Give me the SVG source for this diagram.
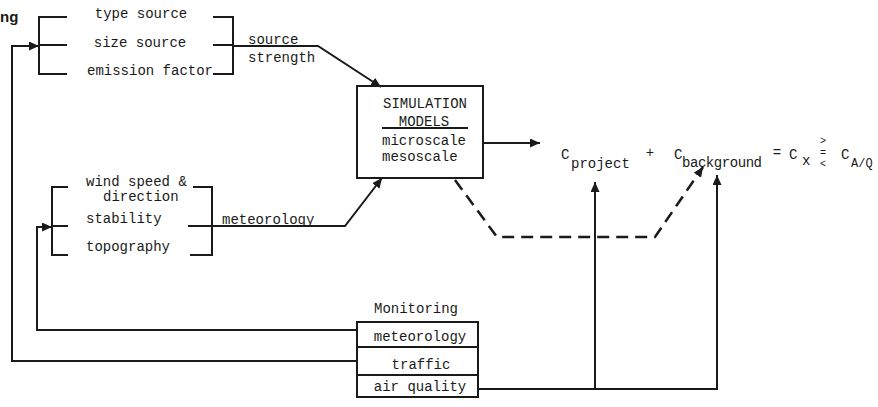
<svg xmlns="http://www.w3.org/2000/svg" width="878" height="407" viewBox="0 0 878 407">
  <style>
    .t { font-family: "Liberation Mono", "DejaVu Sans Mono", monospace; font-size: 14px; fill: #1a1a1a; }
    .m { text-anchor: middle; }
    .ln { fill: none; stroke: #1a1a1a; stroke-width: 2; }
    .dash { fill: none; stroke: #1a1a1a; stroke-width: 2.5; stroke-dasharray: 12 7; }
    .box { fill: #fff; stroke: #1a1a1a; stroke-width: 2; }
  </style>
  <defs>
    <marker id="arrow" markerUnits="userSpaceOnUse" markerWidth="11" markerHeight="9" refX="10" refY="4.5" orient="auto">
      <path d="M0,0 L10,4.5 L0,9 z" fill="#1a1a1a"/>
    </marker>
  </defs>
  <rect width="878" height="407" fill="#fff"/>

  <text x="0" y="22" style="font-family: 'Liberation Sans', Arial, sans-serif; font-size: 15px; font-weight: bold; fill: #1a1a1a;">ng</text>

  <!-- emission source inputs -->
  <g id="source-inputs">
    <path class="ln" d="M67,17 H39 V74 H67 M39,45 H67"/>
    <path class="ln" d="M213,17 H233 V74 H213 M213,45 H233"/>
    <text class="t m" x="141" y="18">type source</text>
    <text class="t m" x="140" y="47">size source</text>
    <text class="t m" x="150" y="75">emission factor</text>
  </g>

  <!-- meteorological inputs -->
  <g id="meteo-inputs">
    <path class="ln" d="M68,187 H52 V255 H68 M52,226 H68"/>
    <path class="ln" d="M193,187 H212 V255 H190 M188,226 H212"/>
    <text class="t" x="86" y="186">wind speed &amp;</text>
    <text class="t" x="103" y="201">direction</text>
    <text class="t" x="86" y="223">stability</text>
    <text class="t" x="86" y="251">topography</text>
  </g>

  <!-- simulation models -->
  <g id="simulation">
    <rect class="box" x="357" y="86" width="126" height="92"/>
    <text class="t m" x="425" y="108">SIMULATION</text>
    <text class="t m" x="424" y="126">MODELS</text>
    <line class="ln" x1="382" y1="128" x2="468" y2="128"/>
    <text class="t" x="382" y="145">microscale</text>
    <text class="t" x="382" y="161">mesoscale</text>
  </g>

  <!-- monitoring -->
  <g id="monitoring">
    <text class="t m" x="416" y="313">Monitoring</text>
    <rect class="box" x="357" y="322" width="121" height="75"/>
    <line class="ln" x1="357" y1="347" x2="478" y2="347"/>
    <line class="ln" x1="357" y1="375" x2="478" y2="375"/>
    <text class="t m" x="420" y="341">meteorology</text>
    <text class="t m" x="421" y="369">traffic</text>
    <text class="t m" x="420" y="391">air quality</text>
  </g>

  <!-- concentration equation -->
  <g id="equation">
    <text class="t" x="561" y="159">C</text>
    <text class="t" x="571" y="168">project</text>
    <text class="t m" x="650" y="157">+</text>
    <text class="t" x="674" y="159">C</text>
    <text class="t" x="682" y="167" textLength="80">background</text>
    <text class="t m" x="777" y="157">=</text>
    <text class="t" x="789" y="159">C</text>
    <text class="t" x="802" y="165">x</text>
    <text class="t m" x="823" y="144" style="font-size:10px">&gt;</text>
    <text class="t m" x="823" y="156" style="font-size:10px">=</text>
    <text class="t m" x="823" y="167" style="font-size:10px">&lt;</text>
    <text class="t" x="841" y="159">C</text>
    <text class="t" x="851" y="167" style="font-size:12px">A/Q</text>
  </g>

  <!-- connectors -->
  <g id="connectors">
    <path class="ln" d="M233,46 H318 L381,87" marker-end="url(#arrow)"/>
    <text class="t" x="248" y="44">source</text>
    <text class="t" x="248" y="62">strength</text>
    <path class="ln" d="M212,226 H345 L382,178" marker-end="url(#arrow)"/>
    <text class="t" x="222" y="224">meteorology</text>
    <path class="ln" d="M483,143 H540" marker-end="url(#arrow)"/>
    <path class="dash" d="M455,180 L497,237 H655 L703,167" marker-end="url(#arrow)"/>
    <path class="ln" d="M357,330 H37 V227 H52" marker-end="url(#arrow)"/>
    <path class="ln" d="M357,361 H12 V46 H39" marker-end="url(#arrow)"/>
    <path class="ln" d="M478,389 H717 V175" marker-end="url(#arrow)"/>
    <path class="ln" d="M595,389 V182" marker-end="url(#arrow)"/>
  </g>
</svg>
